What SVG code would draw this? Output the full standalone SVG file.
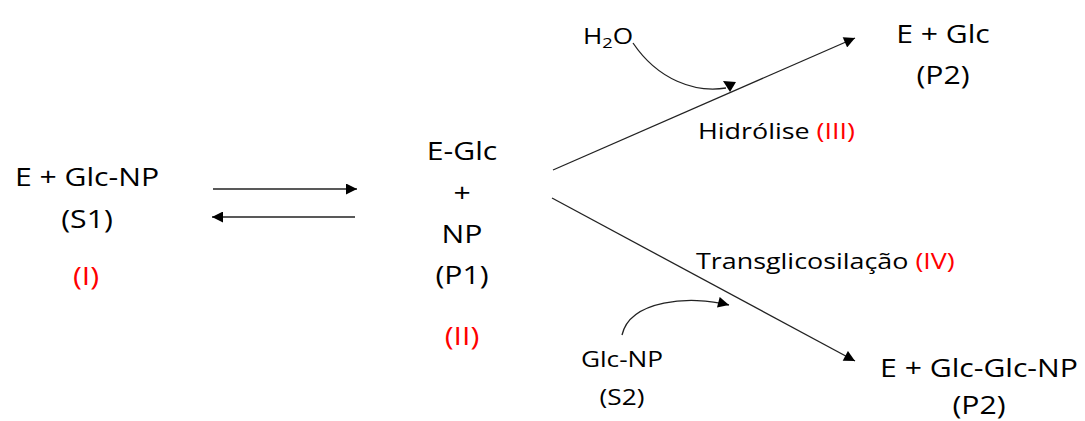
<svg xmlns="http://www.w3.org/2000/svg" width="1085" height="421" viewBox="0 0 1085 421">
<style>
text{font-family:"Open Sans","Noto Sans","Liberation Sans",sans-serif;fill:#000}
.big{font-size:26px;text-anchor:middle}
.sm{font-size:21.5px}
.smc{font-size:21.5px;text-anchor:middle}
.red{fill:#ff0000}
.ln{stroke:#222;stroke-width:1.3;fill:none}
</style>
<defs>
<marker id="ah" viewBox="0 0 10 10" refX="10" refY="5" markerWidth="12" markerHeight="11" markerUnits="userSpaceOnUse" orient="auto">
<path d="M0,0 L10,5 L0,10 z" fill="#000"/>
</marker>
</defs>
<rect width="1085" height="421" fill="#fff"/>
<g id="connectors">
<line class="ln" x1="213" y1="189" x2="357" y2="189" marker-end="url(#ah)"/>
<line class="ln" x1="355" y1="217" x2="212" y2="217" marker-end="url(#ah)"/>
<line class="ln" x1="553" y1="170" x2="855" y2="38" marker-end="url(#ah)"/>
<line class="ln" x1="552" y1="198" x2="855" y2="361" marker-end="url(#ah)"/>
<path class="ln" d="M633,43 C658,80 695,93 726,88"/>
<polygon points="723,81 736,82 730,92" fill="#000"/>
<path class="ln" d="M622,335 C630,300 690,295 729,305" marker-end="url(#ah)"/>
</g>
<g id="node-S1">
<text class="big" transform="translate(87,186) scale(1.16,1)">E + Glc-NP</text>
<text class="big" transform="translate(87,228) scale(1.16,1)">(S1)</text>
<text class="big red" transform="translate(86,285) scale(1.16,1)">(I)</text>
</g>
<g id="node-P1">
<text class="big" transform="translate(462,160) scale(1.16,1)">E-Glc</text>
<text class="big" transform="translate(462,202) scale(1.16,1)">+</text>
<text class="big" transform="translate(462,243) scale(1.16,1)">NP</text>
<text class="big" transform="translate(462,284) scale(1.16,1)">(P1)</text>
<text class="big red" transform="translate(462,345) scale(1.16,1)">(II)</text>
</g>
<g id="node-P2-top">
<text class="big" transform="translate(943,43) scale(1.16,1)">E + Glc</text>
<text class="big" transform="translate(943,84) scale(1.16,1)">(P2)</text>
</g>
<g id="node-H2O">
<text class="sm" transform="translate(583,44) scale(1.22,1)">H<tspan font-size="15" dy="4">2</tspan><tspan dy="-4">O</tspan></text>
</g>
<g id="label-hidrolise">
<text class="sm" transform="translate(698,139) scale(1.25,1)">Hidrólise <tspan class="red">(III)</tspan></text>
</g>
<g id="label-transglicosilacao">
<text class="sm" transform="translate(696,269) scale(1.25,1)">Transglicosilação <tspan class="red">(IV)</tspan></text>
</g>
<g id="node-S2">
<text class="smc" transform="translate(622,367) scale(1.22,1)">Glc-NP</text>
<text class="smc" transform="translate(622,405) scale(1.22,1)">(S2)</text>
</g>
<g id="node-P2-bottom">
<text class="big" transform="translate(979,377) scale(1.16,1)">E + Glc-Glc-NP</text>
<text class="big" transform="translate(979,414) scale(1.16,1)">(P2)</text>
</g>
</svg>
